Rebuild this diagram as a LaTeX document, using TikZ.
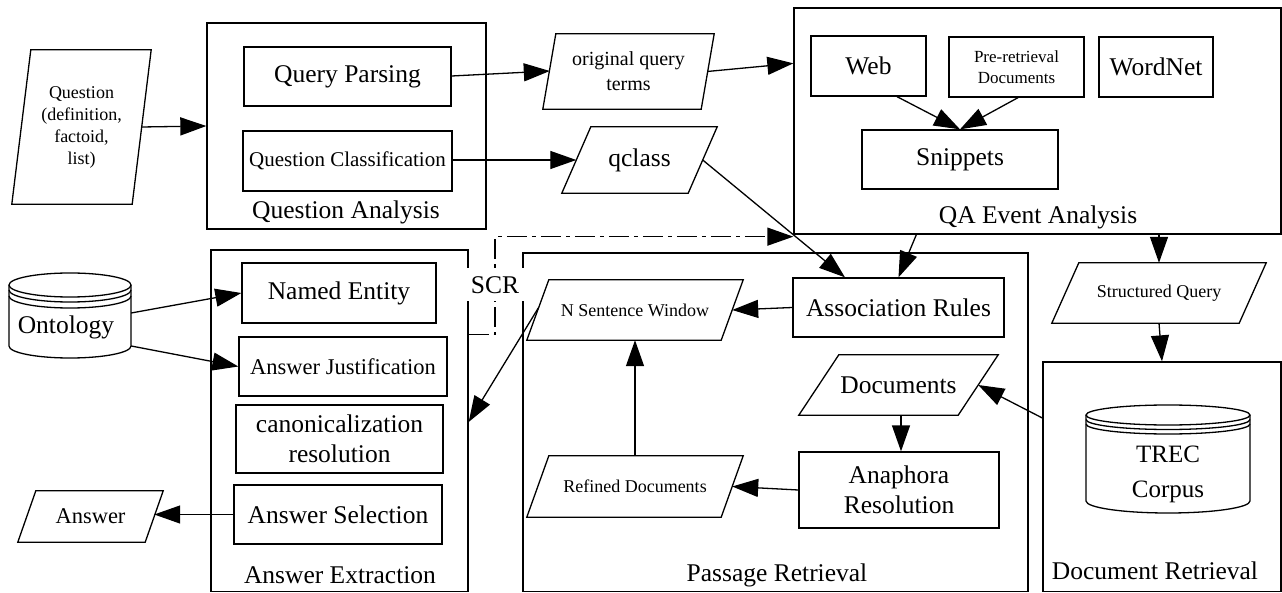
\documentclass[tikz,border=0pt]{standalone}
\usepackage{fontspec}
\setmainfont{Liberation Serif}
\newfontfamily\tms{Liberation Serif}
\usetikzlibrary{arrows.meta,calc}
\newcommand\fz[2]{\tms\fontsize{#1pt}{#2pt}\selectfont}
\newcommand\pgram[8]{%
  \node[pg, minimum width=#4pt, minimum height=#5pt, #7] (#1) at (#2,#3) {#8};
  \draw[ln] (#1.south west) -- ($(#1.north west)+(#6,0)$) -- (#1.north east) -- ($(#1.south east)+(-#6,0)$) -- cycle;
}
\begin{document}
\begin{tikzpicture}[x=1pt,y=-1pt,
  ln/.style={line width=1.3pt},
  box/.style={draw, line width=1.3pt, inner sep=0pt, align=center},
  pg/.style={inner sep=0pt, align=center},
  fa/.style={font=\fz{25.5}{30}},
  fb/.style={font=\fz{21}{25}},
  fc/.style={font=\fz{18}{22}},
  fd/.style={font=\fz{20}{25}},
  fe/.style={font=\fz{17}{21}},
  ff/.style={font=\fz{22.5}{27}},
  lbl/.style={inner sep=0pt, fa},
  arr/.style={line width=1.3pt, -{Triangle[length=26pt,width=18pt]}},
  scrdash/.style={line width=1.3pt, dash pattern=on 20pt off 5pt on 4pt off 5pt, -{Triangle[length=26pt,width=18pt]}},
]
\useasboundingbox (0,0) rectangle (1282,593);

% containers
\node[box, minimum width=279pt, minimum height=206pt] (qan) at (346.5,126) {};
\node[box, minimum width=487pt, minimum height=226pt] (qae) at (1037.5,121) {};
\node[box, minimum width=257pt, minimum height=341.5pt] (ae) at (339.5,420.75) {};
\node[box, minimum width=505pt, minimum height=338.5pt] (pr) at (775.5,422.25) {};
\node[box, minimum width=238pt, minimum height=229.5pt] (dr) at (1162,476.75) {};

\node[lbl] (qanl) at (346,212) {Question Analysis};
\node[lbl] (qael) at (1038,217) {QA Event Analysis};
\node[lbl] (ael) at (340,575) {Answer Extraction};
\node[lbl] (prl) at (777,575) {Passage Retrieval};
\node[lbl] (drl) at (1155,571) {Document Retrieval};

% boxes
\node[box, minimum width=207pt, minimum height=59pt, fa] (qp) at (347.5,76.5) {Query Parsing};
\node[box, minimum width=209pt, minimum height=60pt, fb] (qc) at (347.5,161) {Question Classification};
\node[box, minimum width=115pt, minimum height=60pt, fa] (web) at (868.5,66) {Web};
\node[box, minimum width=135pt, minimum height=60pt, fe] (pre) at (1016.5,67) {Pre-retrieval\\Documents};
\node[box, minimum width=114pt, minimum height=60pt, fa] (wn) at (1156,67) {WordNet};
\node[box, minimum width=196pt, minimum height=59pt, fa] (snip) at (960,159.5) {Snippets};
\node[box, minimum width=194pt, minimum height=60pt, fa] (ne) at (339,293) {Named Entity};
\node[box, minimum width=208pt, minimum height=59pt, ff] (aj) at (343,366.5) {Answer Justification};
\node[box, minimum width=207pt, minimum height=68pt, fa] (cr) at (339.5,439) {canonicalization\\resolution};
\node[box, minimum width=208pt, minimum height=59pt, fa] (as) at (338,514.5) {Answer Selection};
\node[box, minimum width=211pt, minimum height=59pt, fa] (ar) at (898.5,307.5) {Association Rules};
\node[box, minimum width=200pt, minimum height=76pt, fa] (ana) at (899,490) {Anaphora\\Resolution};

% parallelograms
\pgram{q}{81.5}{127}{139}{154}{19}{fc}{Question\\(definition,\\factoid,\\list)}
\pgram{oqt}{628.5}{71.5}{171}{75}{13}{fd}{original query\\terms}
\pgram{qcl}{639.5}{160}{155}{66}{29}{fa}{qclass}
\pgram{ans}{90.5}{516.5}{145}{51}{18}{ff}{Answer}
\pgram{nsw}{635}{310}{216}{60}{22}{fc}{N Sentence Window}
\pgram{docs}{898.5}{385}{199}{60}{40}{fa}{Documents}
\pgram{ref}{635}{486.5}{216}{61}{22}{fc}{Refined Documents}
\pgram{sq}{1159}{293}{214}{60}{27}{fc}{Structured Query}

% cylinders
\node[inner sep=0pt, minimum width=122pt, minimum height=85pt] (ont) at (70,315.5) {};
\node[inner sep=0pt, fa] (ontl) at (66,327) {Ontology};
\draw[ln] (9,285) -- (9,346) arc[start angle=180,end angle=360,x radius=61pt,y radius=12pt] -- (131,285);
\draw[ln] (70,285) ellipse[x radius=61pt,y radius=12pt];
\draw[ln] (9,290) arc[start angle=180,end angle=360,x radius=61pt,y radius=12pt];
\draw[ln] (9,296) arc[start angle=180,end angle=360,x radius=61pt,y radius=12pt];

\node[inner sep=0pt, minimum width=164pt, minimum height=108pt] (trec) at (1168,459) {};
\node[inner sep=0pt, align=center, font=\fz{25}{35}] (trecl) at (1168,474.5) {TREC\\Corpus};
\draw[ln] (1086,415) -- (1086,501) arc[start angle=180,end angle=360,x radius=82pt,y radius=12pt] -- (1250,415);
\draw[ln] (1168,415) ellipse[x radius=82pt,y radius=10pt];
\draw[ln] (1086,419.5) arc[start angle=180,end angle=360,x radius=82pt,y radius=10pt];
\draw[ln] (1086,424) arc[start angle=180,end angle=360,x radius=82pt,y radius=10pt];

% edges
\draw[arr] ($(q.east)+(-9.5,0)$) -- (qan.west);
\draw[arr] ($(qp.east)+(0,-0.5)$) -- ($(oqt.west)+(7,-0.5)$);
\draw[arr] ($(oqt.east)+(-7,0)$) -- ($(qae.north west)+(0,56)$);
\draw[arr] ($(qc.east)+(0,-1)$) -- ($(qcl.west)+(14.5,0)$);
\draw[arr] ($(qcl.east)+(-14.5,0)$) -- ($(ar.north)+(-53.5,0)$);
\draw[arr] ($(qae.south west)+(123,0)$) -- (ar.north);
\draw[arr] (sq.north |- qae.south) -- (sq.north);
\draw[arr] (sq.south) -- (dr.north);
\draw[arr] ($(dr.west)+(0,-58.75)$) -- ($(docs.east)+(-20,0)$);
\draw[arr] ($(docs.south)+(2.5,0)$) -- ($(ana.north)+(2,0)$);
\draw[arr] (ana.west) -- ($(ref.east)+(-11,0)$);
\draw[arr] (ar.west) -- ($(nsw.east)+(-11,0)$);
\draw[arr] (ref.north) -- (nsw.south);
\draw[arr] ($(nsw.west)+(11.5,-2)$) -- ($(ae.east)+(0,1.25)$);
\draw[arr] ($(web.south)+(28.5,0)$) -- (snip.north);
\draw[arr] ($(pre.south)+(1.5,0)$) -- (snip.north);
\draw[arr] ($(ont.east)+(0,-2.5)$) -- (ne.west);
\draw[arr] ($(ont.east)+(0,30.5)$) -- (aj.west);
\draw[arr] (as.west) -- ($(ans.east)+(-9,-2)$);

% SCR
\coordinate (scrc) at (495,285);
\draw[scrdash] ($(ae.north east)+(0,85)$) -| (scrc) |- ($(qae.south west)+(0,2)$);
\node[fill=white, inner sep=0pt, minimum width=60pt, minimum height=33pt, fa] (scr) at (scrc) {SCR};
\end{tikzpicture}
\end{document}
